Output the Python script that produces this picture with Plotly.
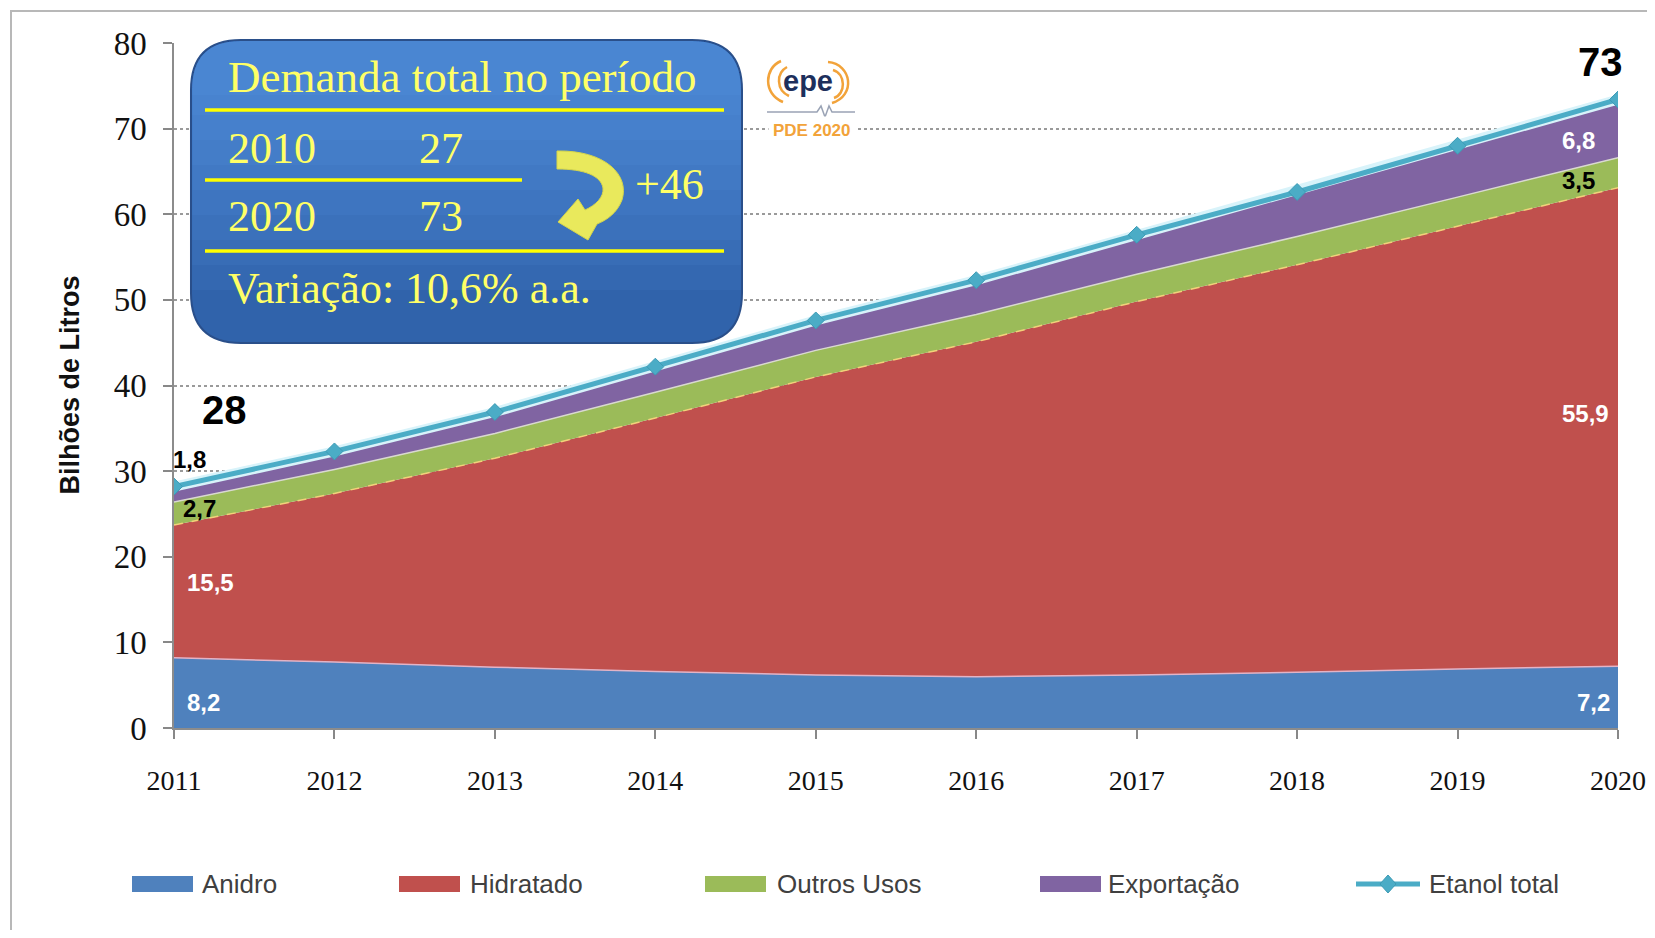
import re
import plotly.graph_objects as go

# ---------------- data ----------------
years = [2011, 2012, 2013, 2014, 2015, 2016, 2017, 2018, 2019, 2020]
anidro = [8.2, 7.7, 7.1, 6.6, 6.2, 6.0, 6.2, 6.5, 6.9, 7.2]
hidratado = [15.5, 19.7, 24.4, 29.6, 34.8, 39.1, 43.6, 47.6, 51.7, 55.9]
outros_usos = [2.7, 2.8, 2.9, 3.0, 3.1, 3.2, 3.2, 3.3, 3.4, 3.5]
exportacao = [1.8, 2.1, 2.5, 3.0, 3.5, 4.0, 4.6, 5.2, 6.0, 6.8]
etanol_total = [28.2, 32.3, 36.9, 42.2, 47.6, 52.3, 57.6, 62.6, 68.0, 73.4]

series_names = ["Anidro", "Hidratado", "Outros Usos", "Exportação", "Etanol total"]
y_ticks = [0, 10, 20, 30, 40, 50, 60, 70, 80]

box_title = "Demanda total no período"
box_rows = [("2010", "27"), ("2020", "73")]
box_delta = "+46"
box_var = "Variação: 10,6% a.a."

# ---------------- style ----------------
C_AN = "#4f81bd"
C_HI = "#c0504d"
C_OU = "#9bbb59"
C_EX = "#8064a2"
C_TOT = "#4bacc6"
YEL = "#ffff66"

OFF = 8  # page body margin
W, H = 1655 - 2 * OFF, 938 - 2 * OFF
ML, MT = 174 - OFF, 43 - OFF
MR = W - (1618 - OFF)
MB = H - (728 - OFF)
PW, PH = W - ML - MR, H - MT - MB


# convert screen pixel coordinates to paper coordinates
def px(x):
    return (x - OFF - ML) / PW


def py(y):
    return (H - MB - (y - OFF)) / PH


def conv_path(s):
    toks = re.findall(r"[A-Za-z]|-?\d+\.?\d*", s)
    out, nums = [], []
    for t in toks:
        if t.isalpha():
            out.append(t)
        else:
            nums.append(float(t))
            if len(nums) == 2:
                out.append(f"{px(nums[0]):.5f},{py(nums[1]):.5f}")
                nums = []
    return " ".join(out)


def rrect(x0, y0, x1, y1, r):
    return conv_path(
        f"M {x0+r},{y0} L {x1-r},{y0} Q {x1},{y0} {x1},{y0+r} L {x1},{y1-r} "
        f"Q {x1},{y1} {x1-r},{y1} L {x0+r},{y1} Q {x0},{y1} {x0},{y1-r} "
        f"L {x0},{y0+r} Q {x0},{y0} {x0+r},{y0} Z"
    )


def rtop(x0, y0, x1, y1, r):
    return conv_path(
        f"M {x0+r},{y0} L {x1-r},{y0} Q {x1},{y0} {x1},{y0+r} L {x1},{y1} "
        f"L {x0},{y1} L {x0},{y0+r} Q {x0},{y0} {x0+r},{y0} Z"
    )


fig = go.Figure()

fig.add_trace(go.Scatter(x=years, y=anidro, name=series_names[0], stackgroup="s",
                         mode="lines", line=dict(color="#e3b3c6", width=1.5),
                         fillcolor=C_AN, showlegend=False))
fig.add_trace(go.Scatter(x=years, y=hidratado, name=series_names[1], stackgroup="s",
                         mode="lines", line=dict(color="#f2d27a", width=1.5, dash="dash"),
                         fillcolor=C_HI, showlegend=False))
fig.add_trace(go.Scatter(x=years, y=outros_usos, name=series_names[2], stackgroup="s",
                         mode="lines", line=dict(color="#d9d9d0", width=1.5),
                         fillcolor=C_OU, showlegend=False))
fig.add_trace(go.Scatter(x=years, y=exportacao, name=series_names[3], stackgroup="s",
                         mode="lines", line=dict(color=C_EX, width=1),
                         fillcolor=C_EX, showlegend=False))
fig.add_trace(go.Scatter(x=years, y=etanol_total, mode="lines", showlegend=False,
                         line=dict(color="#d8f3fa", width=10), hoverinfo="skip"))
fig.add_trace(go.Scatter(x=years, y=etanol_total, name=series_names[4], mode="lines+markers",
                         line=dict(color=C_TOT, width=5),
                         marker=dict(symbol="diamond", size=13, color=C_TOT,
                                     line=dict(color="#3d9bb5", width=1)),
                         showlegend=False))

shapes = []
annotations = []

# outer frame
shapes.append(dict(type="rect", xref="paper", yref="paper",
                   x0=px(11), x1=px(1720), y0=py(11), y1=py(1000),
                   line=dict(color="#b8b8b8", width=2), fillcolor="rgba(0,0,0,0)", layer="below"))

# info box with stepped gradient
shapes.append(dict(type="path", xref="paper", yref="paper", path=rrect(191, 40, 742, 343, 50),
                   fillcolor="#3063ab", line=dict(color="#2a4f8a", width=2), layer="above"))
for yb in [290, 265, 240, 215, 190, 165, 140, 115, 95]:
    shapes.append(dict(type="path", xref="paper", yref="paper", path=rtop(192, 41, 741, yb, 49),
                       fillcolor="rgba(110,170,255,0.075)", line=dict(width=0), layer="above"))
for (x0, x1, yy) in [(205, 724, 110), (205, 522, 180), (205, 724, 251)]:
    shapes.append(dict(type="line", xref="paper", yref="paper", x0=px(x0), x1=px(x1),
                       y0=py(yy), y1=py(yy), line=dict(color="#ffff00", width=3.5), layer="above"))
# curved arrow
shapes.append(dict(type="path", xref="paper", yref="paper", layer="above",
                   path=conv_path("M 557,151 C 605,150 630,175 622,200 C 617,213 607,220 597,224 "
                                  "L 588,240 L 558,222 L 578,199 L 585,210 C 596,205 604,197 603,188 "
                                  "C 601,176 585,169 557,169 Z"),
                   fillcolor="#e9e95c", line=dict(color="#d6d64a", width=1)))

serif = "Liberation Serif, Times New Roman, serif"


def box_text(x, y, text, size=44):
    annotations.append(dict(xref="paper", yref="paper", x=px(x), y=py(y), xanchor="left",
                            yanchor="middle", text=text, showarrow=False,
                            font=dict(family=serif, size=size, color=YEL)))


box_text(226, 77, box_title, 45)
for (yy, row) in zip([148, 217], box_rows):
    box_text(226, yy, row[0])
    box_text(417, yy, row[1])
box_text(633, 184, box_delta)
box_text(226, 288, box_var)

# epe logo
OR = "#f2a33a"
for p in ["M 781,61 C 764,68 763,94 783,102", "M 787,67 C 776,73 776,90 789,96",
          "M 828,62 C 852,64 856,96 832,103", "M 833,70 C 846,74 846,94 834,98"]:
    shapes.append(dict(type="path", xref="paper", yref="paper", path=conv_path(p),
                       line=dict(color=OR, width=2.5), layer="above"))
shapes.append(dict(type="path", xref="paper", yref="paper", layer="above",
                   path=conv_path("M 767,112 L 817,112 L 821,106 L 825,117 L 829,106 L 832,112 L 855,112"),
                   line=dict(color="#9aa3b5", width=1.5)))
annotations.append(dict(xref="paper", yref="paper", x=px(808), y=py(81), text="<b>epe</b>",
                        xanchor="center", yanchor="middle", showarrow=False,
                        font=dict(family="Liberation Sans, Arial", size=29, color="#1d2f5c")))
annotations.append(dict(xref="paper", yref="paper", x=px(812), y=py(130), text="<b>PDE 2020</b>",
                        xanchor="center", yanchor="middle", showarrow=False, bgcolor="white",
                        borderpad=4,
                        font=dict(family="Liberation Sans, Arial", size=17, color=OR)))

# data labels
sans = "Liberation Sans, Arial, sans-serif"


def lab(x, y, text, color, size=24, xanchor="left", xshift=0):
    annotations.append(dict(x=x, y=y, xref="x", yref="y", text=f"<b>{text}</b>", showarrow=False,
                            xanchor=xanchor, yanchor="middle", xshift=xshift,
                            font=dict(family=sans, size=size, color=color)))


fmt = lambda v: f"{v:.1f}".replace(".", ",")
lab(years[0], 3.0, fmt(anidro[0]), "white", xshift=11)
lab(years[0], 17.0, fmt(hidratado[0]), "white", xshift=11)
lab(years[0], 25.6, fmt(outros_usos[0]), "black", xshift=7)
lab(years[0], 31.3, fmt(exportacao[0]), "black", xshift=-3)
lab(years[0], 37.1, f"{etanol_total[0]:.0f}", "black", size=40, xanchor="center", xshift=50)
lab(years[-1], 77.8, f"{etanol_total[-1]:.0f}", "black", size=40, xanchor="center", xshift=-18)
lab(years[-1], 68.6, fmt(exportacao[-1]), "white", xanchor="right", xshift=-21)
lab(years[-1], 64.0, fmt(outros_usos[-1]), "black", xanchor="right", xshift=-21)
lab(years[-1], 36.7, fmt(hidratado[-1]), "white", xanchor="right", xshift=-7)
lab(years[-1], 3.0, fmt(anidro[-1]), "white", xanchor="right", xshift=-6)

# y-axis title
annotations.append(dict(xref="paper", yref="paper", x=px(69), y=0.5, text="<b>Bilhões de Litros</b>",
                        textangle=-90, showarrow=False, xanchor="center", yanchor="middle",
                        font=dict(family=sans, size=27, color="#111111")))

# manual legend
leg_colors = [C_AN, C_HI, C_OU, C_EX]
sw_x = [132, 399, 705, 1040]
txt_x = [200, 468, 775, 1106, 1427]
LY = 884
for i in range(4):
    shapes.append(dict(type="rect", xref="paper", yref="paper", x0=px(sw_x[i]), x1=px(sw_x[i] + 61),
                       y0=py(LY - 8), y1=py(LY + 8), fillcolor=leg_colors[i], line=dict(width=0)))
shapes.append(dict(type="line", xref="paper", yref="paper", x0=px(1356), x1=px(1420),
                   y0=py(LY), y1=py(LY), line=dict(color=C_TOT, width=5)))
shapes.append(dict(type="path", xref="paper", yref="paper",
                   path=conv_path(f"M 1388,{LY-9} L 1396,{LY} L 1388,{LY+9} L 1380,{LY} Z"),
                   fillcolor=C_TOT, line=dict(color="#3d9bb5", width=1)))
for i, name in enumerate(series_names):
    annotations.append(dict(xref="paper", yref="paper", x=px(txt_x[i]), y=py(LY), text=name,
                            showarrow=False, xanchor="left", yanchor="middle",
                            font=dict(family=sans, size=26, color="#404040")))

fig.update_layout(
    width=W, height=H,
    margin=dict(l=ML, r=MR, t=MT, b=MB),
    paper_bgcolor="white", plot_bgcolor="white",
    showlegend=False,
    shapes=shapes, annotations=annotations,
    xaxis=dict(range=[years[0], years[-1]], tickvals=years, ticktext=[str(y) for y in years],
               ticks="outside", ticklen=9, tickcolor="#888888", tickwidth=1.5,
               showline=True, linecolor="#8c8c8c", linewidth=1.5, showgrid=False, zeroline=False,
               ticklabelstandoff=18, automargin=False, ticklabeloverflow="allow",
               tickfont=dict(family=serif, size=28, color="#111111")),
    yaxis=dict(range=[0, 80], tickvals=y_ticks, ticks="outside", ticklen=9, tickcolor="#888888",
               tickwidth=1.5, showline=True, linecolor="#8c8c8c", linewidth=1.5,
               showgrid=True, gridcolor="#9a9a9a", griddash="dot", gridwidth=1.5, zeroline=False,
               ticklabelstandoff=10, automargin=False, ticklabeloverflow="allow",
               tickfont=dict(family=serif, size=33, color="#111111")),
)

fig.write_html("out.html")
